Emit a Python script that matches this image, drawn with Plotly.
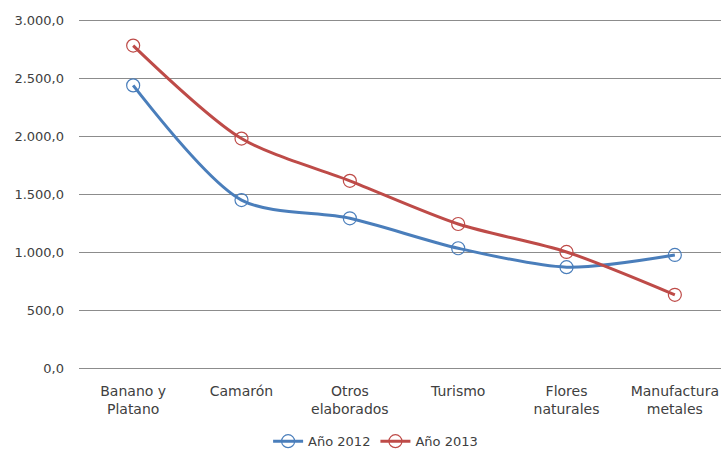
import plotly.graph_objects as go

categories = ["Banano y<br>Platano", "Camarón", "Otros<br>elaborados", "Turismo", "Flores<br>naturales", "Manufactura<br>metales"]
serie_2012 = [2440, 1452, 1295, 1037, 874, 979]
serie_2013 = [2783, 1982, 1618, 1246, 1005, 636]
y_tickvals = [0, 500, 1000, 1500, 2000, 2500, 3000]
y_ticktext = ["0,0", "500,0", "1.000,0", "1.500,0", "2.000,0", "2.500,0", "3.000,0"]

fig = go.Figure()
for name, vals, color in [("Año 2012", serie_2012, "#4a7ebb"), ("Año 2013", serie_2013, "#be4b48")]:
    fig.add_trace(go.Scatter(
        x=list(range(len(categories))), y=vals, name=name, mode="lines+markers",
        line=dict(color=color, width=3, shape="spline", smoothing=0.8),
        marker=dict(symbol="circle-open", size=13, color=color, line=dict(width=1.2, color=color)),
    ))

fig.update_layout(
    width=721, height=453,
    margin=dict(l=79, r=0, t=18.6, b=82.6, autoexpand=False),
    plot_bgcolor="white", paper_bgcolor="white",
    font=dict(family="DejaVu Sans", size=13, color="#404040"),
    showlegend=True,
    legend=dict(orientation="h", x=0.462, xanchor="center", yref="container", y=0.026, yanchor="middle",
                font=dict(size=13), tracegroupgap=0),
    xaxis=dict(range=[-0.5, 5.426], tickmode="array", tickvals=list(range(len(categories))),
               ticktext=categories, showgrid=False, zeroline=False, showline=False,
               ticks="", tickfont=dict(size=14), ticklabelstandoff=11),
    yaxis=dict(range=[-12, 3012], tickmode="array", tickvals=y_tickvals, ticktext=y_ticktext,
               showgrid=True, gridcolor="#8c8c8c", gridwidth=1, zeroline=False, showline=False,
               ticks="", tickfont=dict(size=13), ticklabelstandoff=14),
)
fig.write_html("out.html", config={"displayModeBar": False},
               post_script="document.body.style.margin='0';")
